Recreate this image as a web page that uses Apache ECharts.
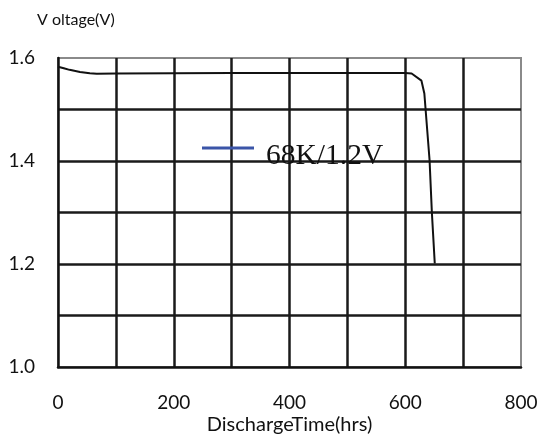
<!DOCTYPE html>
<html>
<head>
<meta charset="utf-8">
<script src="https://cdn.jsdelivr.net/npm/echarts@6/dist/echarts.min.js"></script>
<style>html,body{margin:0;padding:0;background:#fff}#c{width:539px;height:435px}</style>
</head>
<body>
<div id="c"></div>
<script>
const seriesName = '68K/1.2V';
const hours = [0, 10, 20, 38, 55, 67, 100, 300, 450, 600, 611, 628, 633, 642, 646, 651];
const voltage = [1.583, 1.580, 1.577, 1.573, 1.5705, 1.5695, 1.570, 1.571, 1.571, 1.571, 1.570, 1.556, 1.531, 1.402, 1.300, 1.201];
const xTickLabels = [0, 200, 400, 600, 800];
const yTickLabels = ['1.0', '1.2', '1.4', '1.6'];

const font = 'Lato, "Open Sans", sans-serif';
const chart = echarts.init(document.getElementById('c'), null, {renderer: 'canvas'});
chart.setOption({
  animation: false,
  backgroundColor: '#fff',
  title: {
    text: 'V oltage(V)', left: 37, top: 12, padding: 0,
    textStyle: {fontFamily: font, fontSize: 16, fontWeight: 'normal', color: '#111'}
  },
  grid: {left: 58, right: 18, top: 58, bottom: 68, show: true, borderColor: '#8a8a8a', borderWidth: 2,
         containLabel: false, outerBoundsMode: 'none'},
  legend: {
    left: 202, top: 141, padding: 0,
    data: [{name: seriesName, icon: 'rect'}],
    itemWidth: 52, itemHeight: 3,
    formatter: '{a|{name}}',
    textStyle: {
      color: '#111',
      rich: {a: {fontFamily: '"Liberation Serif", "Times New Roman", serif', fontSize: 29.5, color: '#111', padding: [16, 0, 0, 7]}}
    }
  },
  xAxis: {
    type: 'value', min: 0, max: 800, interval: 100,
    name: 'DischargeTime(hrs)', nameLocation: 'middle', nameGap: 48, nameMoveOverlap: false,
    nameTextStyle: {fontFamily: font, fontSize: 20, color: '#111'},
    axisLine: {show: true, onZero: false, lineStyle: {color: '#111', width: 2.5}},
    axisTick: {show: false},
    axisLabel: {
      margin: 26, fontFamily: font, fontSize: 19, color: '#111',
      formatter: v => xTickLabels.includes(Math.round(v)) ? String(Math.round(v)) : ''
    },
    splitLine: {show: true, showMinLine: false, showMaxLine: false, lineStyle: {color: '#1a1a1a', width: 2.5}}
  },
  yAxis: {
    type: 'value', min: 1.0, max: 1.6, interval: 0.1,
    axisLine: {show: true, onZero: false, lineStyle: {color: '#111', width: 2.5}},
    axisTick: {show: false},
    axisLabel: {
      margin: 23, fontFamily: font, fontSize: 19, color: '#111',
      formatter: v => { const s = (Math.round(v * 10) / 10).toFixed(1); return yTickLabels.includes(s) ? s : ''; }
    },
    splitLine: {show: true, showMinLine: false, showMaxLine: false, lineStyle: {color: '#1a1a1a', width: 2.5}}
  },
  series: [{
    name: seriesName, type: 'line', showSymbol: false, smooth: false,
    data: hours.map((h, i) => [h, voltage[i]]),
    itemStyle: {color: '#3b55a8'},
    lineStyle: {color: '#111', width: 2}
  }]
});
</script>
</body>
</html>
